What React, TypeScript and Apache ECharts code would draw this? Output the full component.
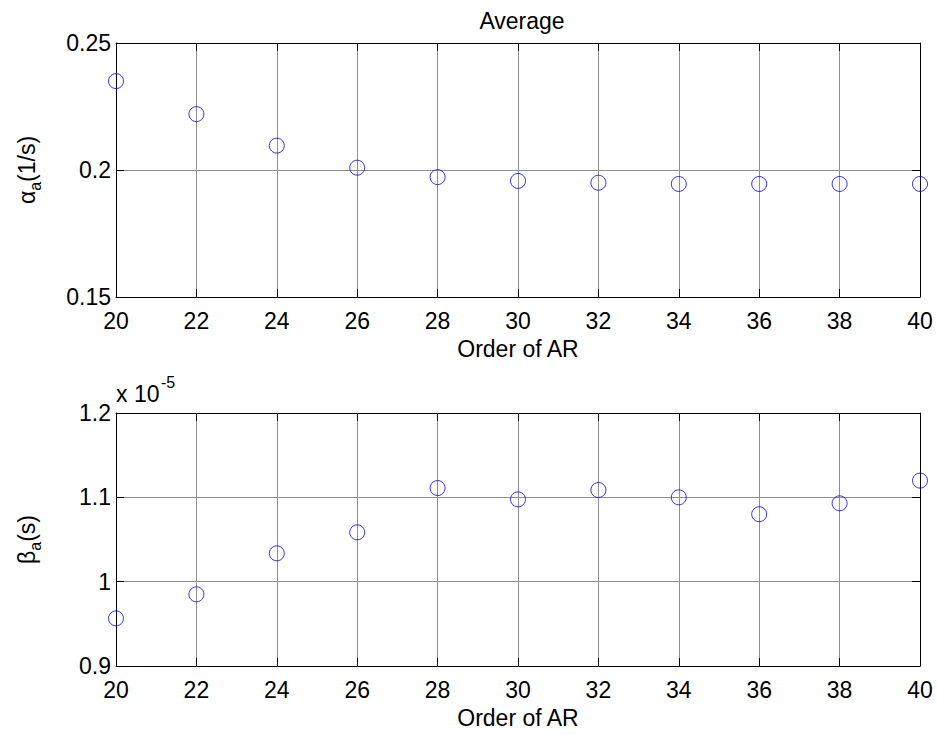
import React, { useEffect, useRef } from "react";
import * as echarts from "echarts";

// AR model order on the horizontal axis of both panels
const orders = [20, 22, 24, 26, 28, 30, 32, 34, 36, 38, 40];
// alpha_a (1/s), averaged
const alphaA = [0.235, 0.222, 0.2096, 0.2009, 0.1972, 0.1957, 0.195, 0.1945, 0.1945, 0.1945, 0.1945];
// beta_a (s), in units of 1e-5 s
const betaA = [0.9565, 0.985, 1.0336, 1.0585, 1.111, 1.0976, 1.1087, 1.1, 1.08, 1.0929, 1.1198];

const xTicks = { min: 20, max: 40, interval: 2 };
const alphaTicks = { min: 0.15, max: 0.25, interval: 0.05 };
const betaTicks = { min: 0.9, max: 1.2, interval: 0.1 };

const FONT = "Liberation Sans, Arial, sans-serif";
const GRID_COLOR = "#8f8f8f";
const FS = 23;

const pairs = (xs: number[], ys: number[]) => xs.map((x, i) => [x, ys[i]]);

export default function App() {
  const ref = useRef<HTMLDivElement>(null);

  useEffect(() => {
    if (!ref.current) return;
    const chart = echarts.init(ref.current, undefined, { renderer: "svg" });

    const label = { color: "#000", fontSize: FS, fontFamily: FONT };
    const line = { show: true, lineStyle: { color: "#000", width: 1 } };
    const tick = { show: true, inside: true, length: 8, lineStyle: { color: "#000", width: 1 } };
    const split = { show: true, lineStyle: { color: GRID_COLOR, width: 1 } };

    const bottomX = (gridIndex: number) => ({
      type: "value",
      gridIndex,
      ...xTicks,
      axisLine: line,
      axisTick: tick,
      axisLabel: { ...label, margin: 12 },
      splitLine: split,
      name: "Order of AR",
      nameLocation: "middle",
      nameGap: 40,
      nameTextStyle: label,
    });
    const topX = (gridIndex: number) => ({
      type: "value",
      gridIndex,
      position: "top",
      ...xTicks,
      axisLine: line,
      axisTick: tick,
      axisLabel: { show: false },
      splitLine: { show: false },
    });
    const leftY = (gridIndex: number, ticks: any, name: string) => ({
      type: "value",
      gridIndex,
      ...ticks,
      axisLine: line,
      axisTick: tick,
      axisLabel: { ...label, margin: 5 },
      splitLine: split,
      name,
      nameLocation: "middle",
      nameGap: 76,
      nameRotate: 90,
      nameTextStyle: {
        ...label,
        rich: {
          g: { fontSize: FS, fontFamily: FONT, color: "#000", lineHeight: 27 },
          s: { fontSize: 16, fontFamily: FONT, color: "#000", lineHeight: 27, padding: [18, 0, 0, 0] },
        },
      },
    });
    const rightY = (gridIndex: number, ticks: any) => ({
      type: "value",
      gridIndex,
      position: "right",
      ...ticks,
      axisLine: line,
      axisTick: tick,
      axisLabel: { show: false },
      splitLine: { show: false },
    });

    const marker = {
      type: "scatter",
      symbol: "circle",
      symbolSize: 15,
      clip: false,
      itemStyle: { color: "rgba(0,0,0,0)", borderColor: "#0000ff", borderWidth: 1 },
    };

    chart.setOption({
      animation: false,
      backgroundColor: "#fff",
      title: {
        text: "Average",
        left: 517,
        top: 4,
        textAlign: "center",
        textStyle: { ...label, fontWeight: "normal" },
      },
      grid: [
        { left: 116, right: 17, top: 43, height: 254 },
        { left: 116, right: 17, top: 413, height: 253 },
      ],
      xAxis: [bottomX(0), topX(0), bottomX(1), topX(1)],
      yAxis: [
        leftY(0, alphaTicks, "{g|α}{s|a}{g|(1/s)}"),
        rightY(0, alphaTicks),
        leftY(1, betaTicks, "{g|β}{s|a}{g|(s)}"),
        rightY(1, betaTicks),
      ],
      graphic: [
        {
          type: "text",
          left: 116,
          top: 382,
          style: { text: "x 10", fontSize: FS, fontFamily: FONT, fill: "#000" },
        },
        {
          type: "text",
          left: 161,
          top: 374,
          style: { text: "-5", fontSize: 16, fontFamily: FONT, fill: "#000" },
        },
      ],
      series: [
        { ...marker, xAxisIndex: 0, yAxisIndex: 0, data: pairs(orders, alphaA) },
        { ...marker, xAxisIndex: 2, yAxisIndex: 2, data: pairs(orders, betaA) },
      ],
    });

    return () => chart.dispose();
  }, []);

  return (
    <div
      ref={ref}
      style={{ position: "fixed", left: 0, top: 0, width: 937, height: 735, background: "#fff" }}
    />
  );
}
